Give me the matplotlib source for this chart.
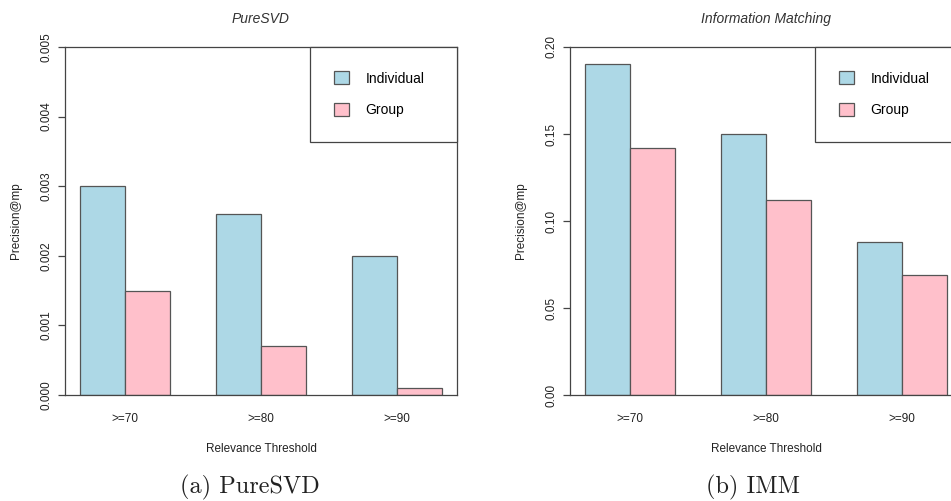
import numpy as np
import matplotlib
matplotlib.use('Agg')
import matplotlib.pyplot as plt

# data
thresholds = ['>=70', '>=80', '>=90']
series = ['Individual', 'Group']
puresvd_individual = [0.0030, 0.0026, 0.0020]
puresvd_group = [0.0015, 0.0007, 0.0001]
imm_individual = [0.190, 0.150, 0.088]
imm_group = [0.142, 0.112, 0.069]

puresvd_yticks = [0.000, 0.001, 0.002, 0.003, 0.004, 0.005]
puresvd_ylabels = ['0.000', '0.001', '0.002', '0.003', '0.004', '0.005']
imm_yticks = [0.00, 0.05, 0.10, 0.15, 0.20]
imm_ylabels = ['0.00', '0.05', '0.10', '0.15', '0.20']

colors = ['#ADD8E6', '#FFC0CB']
edge = '#555555'
frame = '#444444'
sans = ['Liberation Sans', 'DejaVu Sans']

W, H = 951, 501
fig = plt.figure(figsize=(W / 100, H / 100), dpi=100)


def panel(left_px, title, indiv, group, yticks, ylabels):
    ax = fig.add_axes([left_px / W, (H - 395) / H, 392 / W, 348 / H])
    # R style barplot positions: groups of two bars with one unit gap
    starts = np.arange(len(thresholds)) * 3 + 1
    ax.bar(starts + 0.5, indiv, width=1, color=colors[0], edgecolor=edge,
           linewidth=0.9, label=series[0])
    ax.bar(starts + 1.5, group, width=1, color=colors[1], edgecolor=edge,
           linewidth=0.9, label=series[1])
    ax.set_xlim(0.68, 9.32)
    ax.set_ylim(yticks[0], yticks[-1])
    ax.set_xticks(starts + 1, labels=thresholds)
    ax.tick_params(axis='x', length=0, pad=13, labelsize=8.5, colors='#222222')
    ax.set_yticks(yticks, labels=ylabels)
    ax.tick_params(axis='y', length=5, width=0.9, color=frame, pad=4,
                   labelsize=8.5, labelcolor='#222222')
    for lbl in ax.get_yticklabels() + ax.get_xticklabels():
        lbl.set_family(sans)
    for lbl in ax.get_yticklabels():
        lbl.set_rotation(90)
        lbl.set_va('center')
    for s in ax.spines.values():
        s.set_color(frame)
        s.set_linewidth(0.9)
    ax.set_title(title, fontsize=10, style='italic', family=sans,
                 color='#333333', pad=17)
    ax.set_xlabel('Relevance Threshold', fontsize=8.5, family=sans,
                  color='#222222', labelpad=13)
    ax.set_ylabel('Precision@mp', fontsize=8.5, family=sans,
                  color='#222222', labelpad=13)
    leg = ax.legend(loc='upper right', bbox_to_anchor=(1 - 0.375, 0, 0.375, 1),
                    mode='expand', borderaxespad=0, fancybox=False,
                    prop={'family': sans, 'size': 10}, handlelength=1.08,
                    handleheight=1.08, handletextpad=1.15, labelspacing=1.25,
                    borderpad=1.75)
    leg.get_frame().set_edgecolor(frame)
    leg.get_frame().set_linewidth(0.9)
    leg.get_frame().set_alpha(1)
    return ax


panel(65, 'PureSVD', puresvd_individual, puresvd_group,
      puresvd_yticks, puresvd_ylabels)
panel(570, 'Information Matching', imm_individual, imm_group,
      imm_yticks, imm_ylabels)

fig.text(250 / W, 8 / H, '(a) PureSVD', family='cmr10', fontsize=17.5,
         ha='center', va='baseline', color='#222222')
fig.text(753 / W, 8 / H, '(b) IMM', family='cmr10', fontsize=17.5,
         ha='center', va='baseline', color='#222222')

fig.savefig('out.png', dpi=100)
